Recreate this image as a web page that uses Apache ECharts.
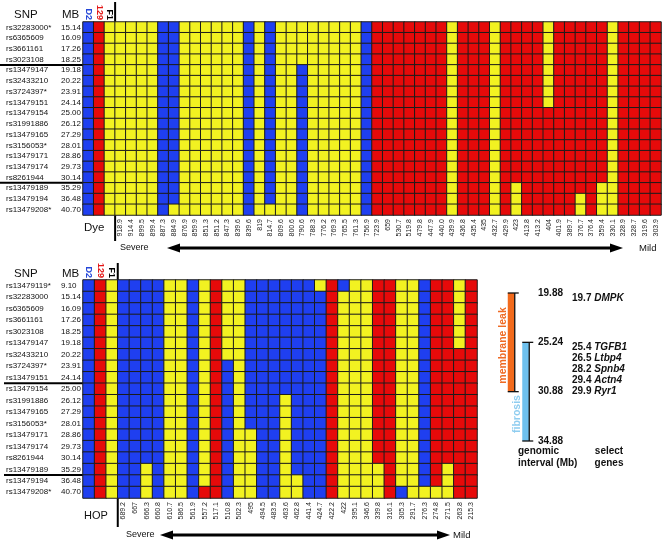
<!DOCTYPE html>
<html>
<head>
<meta charset="utf-8">
<title>Genotype map</title>
<script src="https://cdn.jsdelivr.net/npm/echarts@6/dist/echarts.min.js"></script>
<style>
  html, body { margin: 0; padding: 0; background: #fff; }
  #chart { width: 665px; height: 543px; }
</style>
</head>
<body>
<div id="chart"></div>
<script>
// genotype colours: D2 homozygous (B), 129 homozygous (R), heterozygous (Y)
var BLUE = '#1f3ff0', RED = '#e60a0a', YELLOW = '#f2f221';
var FONT = 'Liberation Sans, Arial, Helvetica, sans-serif';

var controlNames = ['D2', '129', 'F1'];
var controlCalls = ['B', 'R', 'Y'];

// ---- Dye panel ----
var dyeSnps = ['rs32283000*', 'rs6365609', 'rs3661161', 'rs3023108', 'rs13479147', 'rs32433210',
  'rs3724397*', 'rs13479151', 'rs13479154', 'rs31991886', 'rs13479165', 'rs3156053*',
  'rs13479171', 'rs13479174', 'rs8261944', 'rs13479189', 'rs13479194', 'rs13479208*'];
var dyeMb = ['15.14', '16.09', '17.26', '18.25', '19.18', '20.22', '23.91', '24.14', '25.00',
  '26.12', '27.29', '28.01', '28.86', '29.73', '30.14', '35.29', '36.48', '40.70'];
var dyeBreaks = [3, 14];
var dyeSamples = ['918.9', '914.4', '899.5', '899.4', '887.3', '884.9', '876.9', '859.9', '851.3',
  '851.2', '847.3', '839.6', '839.6', '819', '814.7', '809.6', '800.6', '790.6', '788.3', '776.2',
  '769.3', '765.5', '761.3', '756.9', '723.9', '659', '530.7', '519.8', '479.8', '447.9', '440.0',
  '439.9', '436.8', '435.4', '435', '432.7', '429.9', '423', '413.8', '413.2', '404', '401.9',
  '389.7', '376.7', '376.4', '359.4', '330.1', '328.9', '328.7', '319.6', '303.9'];
// one string per sample, SNPs top to bottom
var dyeCalls = [
  'YYYYYYYYYYYYYYYYYY', 'YYYYYYYYYYYYYYYYYY', 'YYYYYYYYYYYYYYYYYY', 'YYYYYYYYYYYYYYYYYY',
  'BBBBBBBBBBBBBBBBBB', 'BBBBBBBBBBBBBBBBBY', 'YYYYYYYYYYYYYYYYYY', 'YYYYYYYYYYYYYYYYYY',
  'YYYYYYYYYYYYYYYYYY', 'YYYYYYYYYYYYYYYYYY', 'YYYYYYYYYYYYYYYYYY', 'YYYYYYYYYYYYYYYYYY',
  'BBBBBBBBBBBBBBBBBB', 'YYYYYYYYYYYYYYYYYY', 'BBBBBBBBBBBBBBBBBY', 'YYYYYYYYYYYYYYYYYY',
  'YYYYYYYYYYYYYYYYYY', 'YYYYBBBBBBBBBBBBBB', 'YYYYYYYYYYYYYYYYYY', 'YYYYYYYYYYYYYYYYYY',
  'YYYYYYYYYYYYYYYYYY', 'YYYYYYYYYYYYYYYYYY', 'YYYYYYYYYYYYYYYYYY', 'BBBBBBBBBBBBBBBBBB',
  'RRRRRRRRRRRRRRRRRR', 'RRRRRRRRRRRRRRRRRR', 'RRRRRRRRRRRRRRRRRR', 'RRRRRRRRRRRRRRRRRR',
  'RRRRRRRRRRRRRRRRRR', 'RRRRRRRRRRRRRRRRRR', 'RRRRRRRRRRRRRRRRRR', 'YYYYYYYYYYYYYYYYYY',
  'RRRRRRRRRRRRRRRRRR', 'RRRRRRRRRRRRRRRRRR', 'RRRRRRRRRRRRRRRRRR', 'YYYYYYYYYYYYYYYYYY',
  'RRRRRRRRRRRRRRRRRR', 'RRRRRRRRRRRRRRRYYY', 'RRRRRRRRRRRRRRRRRR', 'RRRRRRRRRRRRRRRRRR',
  'YYYYYYYYRRRRRRRRRR', 'RRRRRRRRRRRRRRRRRR', 'RRRRRRRRRRRRRRRRRR', 'RRRRRRRRRRRRRRRRYY',
  'RRRRRRRRRRRRRRRRRR', 'RRRRRRRRRRRRRRRYYY', 'YYYYYYYYYYYYYYYYYY', 'RRRRRRRRRRRRRRRRRR',
  'RRRRRRRRRRRRRRRRRR', 'RRRRRRRRRRRRRRRRRR', 'RRRRRRRRRRRRRRRRRR'];

// ---- HOP panel ----
var hopSnps = ['rs13479119*', 'rs32283000', 'rs6365609', 'rs3661161', 'rs3023108', 'rs13479147',
  'rs32433210', 'rs3724397*', 'rs13479151', 'rs13479154', 'rs31991886', 'rs13479165',
  'rs3156053*', 'rs13479171', 'rs13479174', 'rs8261944', 'rs13479189', 'rs13479194', 'rs13479208*'];
var hopMb = ['9.10', '15.14', '16.09', '17.26', '18.25', '19.18', '20.22', '23.91', '24.14', '25.00',
  '26.12', '27.29', '28.01', '28.86', '29.73', '30.14', '35.29', '36.48', '40.70'];
var hopBreaks = [8, 16];
var hopSamples = ['689.2', '667', '666.3', '660.8', '610.7', '586.5', '561.9', '557.2', '517.1',
  '510.8', '502.3', '495', '494.5', '483.5', '463.6', '462.8', '441.4', '424.7', '422.2', '422',
  '395.1', '346.6', '339.8', '316.1', '305.3', '291.7', '276.3', '274.8', '271.5', '263.8', '215.3'];
var hopCalls = [
  'BBBBBBBBBBBBBBBBBBB', 'BBBBBBBBBBBBBBBBBBB', 'BBBBBBBBBBBBBBBBYYY', 'BBBBBBBBBBBBBBBBBBB',
  'YYYYYYYYYYYYYYYYYYY', 'YYYYYYYYYYYYYYYYYYY', 'BBBBBBBBBBBBBBBBBBB', 'YYYYYYYYYYYYYYYYYYR',
  'RRRRRRRRRRRRRRRRRRR', 'YYYYYYYBBBBBBBBBBBB', 'YYYYYYYYYYYYYYYYYYY', 'BBBBBBBBBBBBBYYYYYY',
  'BBBBBBBBBBBBBBBBBBB', 'BBBBBBBBBBBBBBBBBBB', 'BBBBBBBBBBYYYYYYYYY', 'BBBBBBBBBBBBBBBBBYY',
  'BBBBBBBBBBBBBBBBBBB', 'YBBBBBBBBBBBBBBBBBB', 'RRRRRRRRRRRRRRRRRRR', 'BYYYYYYYYYYYYYYYYYY',
  'YYYYYYYYYYYYYYYYYYY', 'YYYYYYYYYYYYYYYYYYY', 'RRRRRRRRRRRRRRRRYYY', 'RRRRRRRRRRRRRRRRRRR',
  'YYYYYYYYYYYYYYYYYYB', 'YYYYYYYYYYYYYYYYYYY', 'BBBBBBBBBBBBBBBBBBY', 'RRRRRRRRRRRRRRRRRRY',
  'RRRRRRRRRRRRRRRRYYY', 'YYYYYYRRRRRRRRRRRRR', 'RRRRRRRRRRRRRRRRRRR'];

// ---- genomic interval sketch ----
var intervalTicks = ['19.88', '25.24', '30.88', '34.88'];
var traitNames = ['membrane leak', 'fibrosis'];
var traitFrom = ['19.88', '25.24'];
var traitTo = ['30.88', '34.88'];
var traitColors = ['#f26a1c', '#6fc1ee'];
var traitLabelColors = ['#ef6b25', '#8fcdf0'];
var genePos = ['19.7', '25.4', '26.5', '28.2', '29.4', '29.9'];
var geneNames = ['DMPK', 'TGFB1', 'Ltbp4', 'Spnb4', 'Actn4', 'Ryr1'];

var codeOf = { B: 0, R: 1, Y: 2 };

function cells(calls, nRows) {
  var data = [];
  for (var r = 0; r < nRows; r++) {
    for (var c = 0; c < controlCalls.length; c++) data.push([c, r, codeOf[controlCalls[c]]]);
  }
  calls.forEach(function (col, j) {
    for (var r = 0; r < col.length; r++) data.push([j + controlCalls.length, r, codeOf[col[r]]]);
  });
  return data;
}

var hidden = { axisLine: { show: false }, axisTick: { show: false }, splitLine: { show: false } };

function sampleAxis(grid, names) {
  return Object.assign({
    type: 'category', gridIndex: grid, position: 'bottom', data: controlNames.concat(names),
    axisLabel: {
      interval: 0, rotate: 90, margin: 4, fontSize: 7, fontFamily: FONT, color: '#222',
      formatter: function (v, i) { return i < controlNames.length ? '' : v; }
    }
  }, hidden);
}

function controlAxis(grid, names) {
  return Object.assign({
    type: 'category', gridIndex: grid, position: 'top', data: controlNames.concat(names),
    axisLabel: {
      interval: 0, rotate: 90, margin: 2,
      formatter: function (v, i) { return i < controlNames.length ? '{c' + i + '|' + v + '}' : ''; },
      rich: {
        c0: { color: '#2547d8', fontWeight: 'bold', fontSize: 9, fontFamily: FONT },
        c1: { color: '#e31515', fontWeight: 'bold', fontSize: 9, fontFamily: FONT },
        c2: { color: '#000', fontWeight: 'bold', fontSize: 9, fontFamily: FONT }
      }
    }
  }, hidden);
}

function snpAxis(grid, snps, mb) {
  return Object.assign({
    type: 'category', gridIndex: grid, data: snps, inverse: true,
    axisLabel: {
      interval: 0, align: 'left', margin: 77,
      formatter: function (v, i) { return '{s|' + v + '}{m|' + mb[i] + '}'; },
      rich: {
        s: { width: 55, fontSize: 8, fontFamily: FONT, color: '#111' },
        m: { fontSize: 8, fontFamily: FONT, color: '#111' }
      }
    }
  }, hidden);
}

var heatStyle = { borderColor: '#1c1c1c', borderWidth: 1 };

var chart = echarts.init(document.getElementById('chart'));
chart.setOption({
  animation: false,
  grid: [
    { left: 83, top: 22, width: 578, height: 193 },
    { left: 83, top: 280, width: 394, height: 218 },
    { left: 504, top: 293, width: 29, height: 148 }
  ],
  xAxis: [
    sampleAxis(0, dyeSamples), controlAxis(0, dyeSamples),
    sampleAxis(1, hopSamples), controlAxis(1, hopSamples),
    Object.assign({ type: 'category', gridIndex: 2, data: traitNames, axisLabel: { show: false } }, hidden)
  ],
  yAxis: [
    snpAxis(0, dyeSnps, dyeMb),
    snpAxis(1, hopSnps, hopMb),
    Object.assign({
      type: 'category', gridIndex: 2, data: intervalTicks, inverse: true, boundaryGap: false,
      position: 'right',
      axisLabel: { interval: 0, margin: 5, align: 'left', fontSize: 10, fontWeight: 'bold', fontFamily: FONT, color: '#111' }
    }, hidden)
  ],
  visualMap: {
    type: 'piecewise', show: false, dimension: 2, seriesIndex: [0, 1],
    pieces: [{ value: 0, color: BLUE }, { value: 1, color: RED }, { value: 2, color: YELLOW }]
  },
  series: [
    { type: 'heatmap', xAxisIndex: 0, yAxisIndex: 0, data: cells(dyeCalls, dyeSnps.length),
      itemStyle: heatStyle, silent: true, progressive: 0 },
    { type: 'heatmap', xAxisIndex: 2, yAxisIndex: 1, data: cells(hopCalls, hopSnps.length),
      itemStyle: heatStyle, silent: true, progressive: 0 },
    {
      type: 'custom', xAxisIndex: 4, yAxisIndex: 2, silent: true,
      data: traitNames.map(function (n, i) {
        return [i, intervalTicks.indexOf(traitFrom[i]), intervalTicks.indexOf(traitTo[i])];
      }),
      encode: { x: 0, y: [1, 2] },
      renderItem: function (params, api) {
        var i = params.dataIndex;
        var a = api.coord([api.value(0), api.value(1)]);
        var b = api.coord([api.value(0), api.value(2)]);
        var w = 7, l = a[0] - w / 2, r = a[0] + w / 2;
        var ink = { stroke: '#111', lineWidth: 1.3 };
        return {
          type: 'group',
          children: [
            { type: 'rect', shape: { x: l, y: a[1], width: w, height: b[1] - a[1] }, style: { fill: traitColors[i] } },
            { type: 'line', shape: { x1: l, y1: a[1], x2: r + 4, y2: a[1] }, style: ink },
            { type: 'line', shape: { x1: l, y1: b[1], x2: r + 4, y2: b[1] }, style: ink },
            { type: 'line', shape: { x1: r, y1: a[1], x2: r, y2: b[1] }, style: ink },
            { type: 'text', x: l - 5, y: b[1] - 8, rotation: Math.PI / 2,
              style: { text: traitNames[i], fill: traitLabelColors[i], font: 'bold 10.5px ' + FONT,
                align: 'left', verticalAlign: 'middle' } }
          ]
        };
      }
    }
  ]
});

// ---- annotations placed from the axes ----
function xPix(axis, v) { return chart.convertToPixel({ xAxisIndex: axis }, v); }
function yPix(axis, v) { return chart.convertToPixel({ yAxisIndex: axis }, v); }
function rowGap(axis, r) { return (yPix(axis, r) + yPix(axis, r + 1)) / 2; }

var black = { stroke: '#000', lineWidth: 2 };
function txt(x, y, s, size, extra) {
  return { type: 'text', x: x, y: y, style: Object.assign({
    text: s, fill: '#111', font: size + 'px ' + FONT, align: 'left', verticalAlign: 'middle'
  }, extra || {}) };
}
function arrow(x1, x2, y) {
  var h = 13, hw = 4.5;
  return [
    { type: 'line', shape: { x1: x1 + h - 1, y1: y, x2: x2 - h + 1, y2: y }, style: { stroke: '#000', lineWidth: 3 } },
    { type: 'polygon', shape: { points: [[x1, y], [x1 + h, y - hw], [x1 + h, y + hw]] }, style: { fill: '#000' } },
    { type: 'polygon', shape: { points: [[x2, y], [x2 - h, y - hw], [x2 - h, y + hw]] }, style: { fill: '#000' } }
  ];
}

var els = [];
var vx0 = (xPix(0, 2) + xPix(0, 3)) / 2;
els.push({ type: 'line', shape: { x1: vx0, y1: 2, x2: vx0, y2: 241 }, style: black });
dyeBreaks.forEach(function (r) {
  var y = rowGap(0, r);
  els.push({ type: 'line', shape: { x1: 0, y1: y, x2: 661, y2: y }, style: black });
});
var vx1 = (xPix(2, 2) + xPix(2, 3)) / 2;
els.push({ type: 'line', shape: { x1: vx1, y1: 263, x2: vx1, y2: 527 }, style: black });
hopBreaks.forEach(function (r) {
  var y = rowGap(1, r);
  els.push({ type: 'line', shape: { x1: 4, y1: y, x2: 477, y2: y }, style: black });
});

els.push(txt(14, 15, 'SNP', 11.5), txt(62, 15, 'MB', 11.5));
els.push(txt(14, 274, 'SNP', 11.5), txt(62, 274, 'MB', 11.5));
els.push(txt(84, 228, 'Dye', 11.5), txt(84, 516, 'HOP', 11));
els.push(txt(120, 248, 'Severe', 9), txt(639, 248, 'Mild', 9.5));
els.push(txt(126, 535, 'Severe', 9), txt(453, 535, 'Mild', 9.5));
els = els.concat(arrow(167, 623, 248), arrow(160, 450, 535));

// genes next to the interval ticks
var t0 = yPix(2, 0), t1 = yPix(2, 1), t2 = yPix(2, 2);
geneNames.forEach(function (g, k) {
  var y = k === 0 ? t0 + 5 : t1 + 5 + (k - 1) * (t2 - t1 - 5) / 4;
  els.push({ type: 'text', x: 572, y: y, style: {
    text: '{n|' + genePos[k] + ' }{g|' + g + '}', align: 'left', verticalAlign: 'middle',
    rich: {
      n: { font: 'bold 10px ' + FONT, fill: '#111' },
      g: { font: 'italic bold 10px ' + FONT, fill: '#111' }
    }
  } });
});
els.push(txt(518, 457, 'genomic\ninterval (Mb)', 10, { font: 'bold 10px ' + FONT, lineHeight: 12 }));
els.push(txt(609, 457, 'select\ngenes', 10, { font: 'bold 10px ' + FONT, lineHeight: 12, align: 'center' }));

chart.setOption({ graphic: { elements: els } });
</script>
</body>
</html>
